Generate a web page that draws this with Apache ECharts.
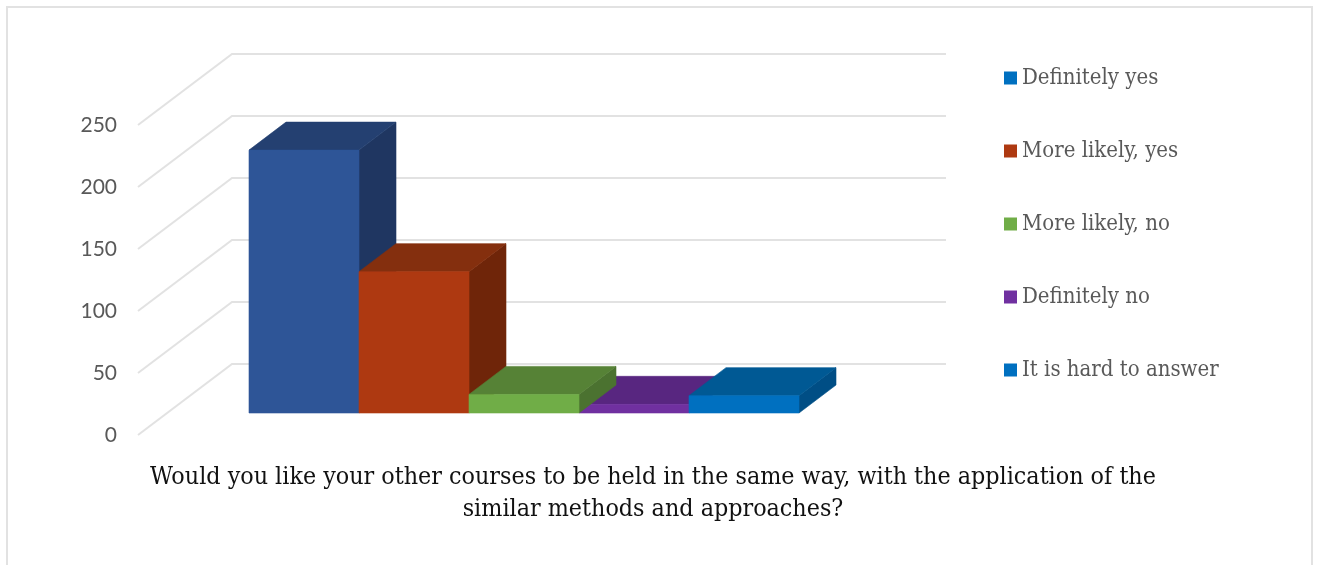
<!DOCTYPE html>
<html>
<head>
<meta charset="utf-8">
<title>Course format survey</title>
<style>
  html, body { margin: 0; padding: 0; background: #fff; overflow: hidden; }
  #chart { width: 1317px; height: 565px; }
</style>
<script src="https://cdn.jsdelivr.net/npm/echarts@6/dist/echarts.min.js"></script>
</head>
<body>
<div id="chart"></div>
<script>
// Survey answers and their response counts
const answers = ['Definitely yes', 'More likely, yes', 'More likely, no', 'Definitely no', 'It is hard to answer'];
const counts = [212, 114, 15, 7, 14];
const yTicks = [0, 50, 100, 150, 200, 250];

// Colours: legend swatch, then the three visible faces of each column
const swatchColors = ['#0070C0', '#AE3911', '#70AD47', '#7030A0', '#0070C0'];
const frontColors = ['#2E5597', '#AE3911', '#70AD47', '#7030A0', '#0070C0'];
const topColors = ['#244071', '#842F0E', '#568236', '#582680', '#005994'];
const sideColors = ['#1F3661', '#6F2509', '#4B7230', '#4E2270', '#004E85'];
// Paint order keeps the lowest column behind its neighbours
const paintOrder = [1, 2, 4, 0, 5];

const questionLines = [
  'Would you like your other courses to be held in the same way, with the application of the',
  'similar methods and approaches?'
];

// Projection of the pseudo-3D box, in pixels
const WALL_DX = 94, WALL_DY = -71, WALL_WIDTH = 714;
const FLOOR_DX = 29, FLOOR_DY = -22;
const BAR_DX = 37, BAR_DY = -28;
const SERIF = 'DejaVu Serif Condensed, DejaVu Serif';

function renderWall(params, api) {
  const y = api.coord([0, api.value(0)])[1];
  const x0 = 138;
  return {
    type: 'polyline',
    silent: true,
    shape: { points: [[x0, y], [x0 + WALL_DX, y + WALL_DY], [x0 + WALL_DX + WALL_WIDTH, y + WALL_DY]] },
    style: { fill: null, stroke: '#E2E2E2', lineWidth: 2 }
  };
}

function barRenderer(index) {
  return function (params, api) {
    const base = api.coord([api.value(0), 0]);
    const top = api.coord([api.value(0), api.value(1)]);
    const w = api.size([1, 0])[0];
    const l = base[0] - w / 2 + FLOOR_DX, r = l + w;
    const b = base[1] + FLOOR_DY, t = top[1] + FLOOR_DY;
    const face = (points, fill) => ({
      type: 'polygon',
      shape: { points },
      style: { fill, stroke: fill, lineWidth: 0.6 }
    });
    return {
      type: 'group',
      children: [
        face([[r, b], [r + BAR_DX, b + BAR_DY], [r + BAR_DX, t + BAR_DY], [r, t]], sideColors[index]),
        face([[l, t], [r, t], [r + BAR_DX, t + BAR_DY], [l + BAR_DX, t + BAR_DY]], topColors[index]),
        face([[l, b], [r, b], [r, t], [l, t]], frontColors[index])
      ]
    };
  };
}

const barSeries = answers.map((name, i) => ({
  name,
  type: 'custom',
  z: 3 + paintOrder[i],
  clip: false,
  renderItem: barRenderer(i),
  itemStyle: { color: swatchColors[i] },
  encode: { x: 0, y: 1 },
  data: [[i, counts[i]]]
}));

const chart = echarts.init(document.getElementById('chart'), null, { renderer: 'canvas' });
chart.setOption({
  animation: false,
  backgroundColor: '#fff',
  graphic: [{
    type: 'rect',
    silent: true,
    z: -1,
    shape: { x: 7, y: 7, width: 1305, height: 600 },
    style: { fill: null, stroke: '#E2E2E2', lineWidth: 2 }
  }],
  title: {
    text: questionLines.join('\n'),
    left: 648,
    top: 457,
    textAlign: 'center',
    textStyle: {
      fontFamily: SERIF,
      fontWeight: 'normal',
      fontSize: 24.8,
      lineHeight: 32,
      color: '#111'
    }
  },
  legend: {
    data: answers,
    orient: 'vertical',
    left: 999,
    top: 62,
    itemWidth: 13,
    itemHeight: 13,
    itemGap: 51,
    itemStyle: { borderWidth: 0 },
    icon: 'rect',
    textStyle: { fontFamily: SERIF, fontSize: 22, color: '#595959' },
    selectedMode: false
  },
  grid: { left: 220, top: 125, width: 550, height: 310 },
  xAxis: {
    type: 'category',
    data: answers,
    axisLine: { show: false },
    axisTick: { show: false },
    axisLabel: { show: false }
  },
  yAxis: {
    type: 'value',
    min: 0,
    max: 250,
    interval: 50,
    axisLine: { show: false },
    axisTick: { show: false },
    splitLine: { show: false },
    axisLabel: { margin: 103, padding: [2, 0, 0, 0], fontFamily: 'Lato', fontSize: 21, color: '#595959' }
  },
  series: [{
    type: 'custom',
    z: 1,
    clip: false,
    silent: true,
    renderItem: renderWall,
    encode: { y: 0 },
    data: yTicks.map(v => [v])
  }].concat(barSeries)
});
</script>
</body>
</html>
